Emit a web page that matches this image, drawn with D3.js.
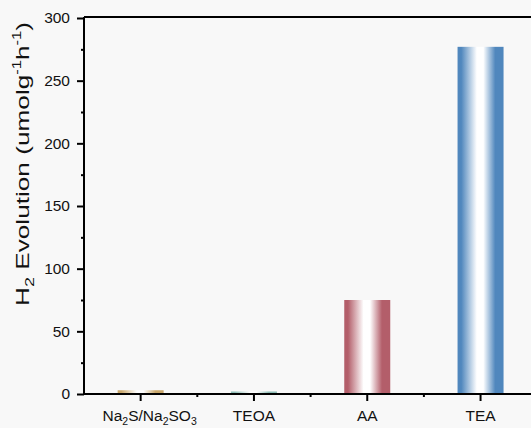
<!DOCTYPE html>
<html>
<head>
<meta charset="utf-8">
<script src="https://cdn.jsdelivr.net/npm/d3@7"></script>
<style>
  html, body { margin: 0; padding: 0; background: #f8f8f8; }
  svg { display: block; font-family: "Liberation Sans", Arial, sans-serif; }
</style>
</head>
<body>
<svg id="chart" width="531" height="428"></svg>
<script>
// Sacrificial agents and their hydrogen evolution rates
const categories = ["Na2S/Na2SO3", "TEOA", "AA", "TEA"];
// Label pieces: [text, "sub" | ""]
const categoryLabels = [
  [["Na", ""], ["2", "sub"], ["S/Na", ""], ["2", "sub"], ["SO", ""], ["3", "sub"]],
  [["TEOA", ""]],
  [["AA", ""]],
  [["TEA", ""]]
];
const values = [3, 2, 75, 277];
const barColors = ["#c9a76b", "#8dbcb5", "#b35e6a", "#5087bd"];
const yTicks = [0, 50, 100, 150, 200, 250, 300];
const yMinorTicks = [25, 75, 125, 175, 225, 275];

const svg = d3.select("#chart");
const plotLeft = 84, plotTop = 18, plotBottom = 394;
const step = 113.3;
const plotRight = plotLeft + step * categories.length;

const x = d3.scaleBand()
  .domain(categories)
  .range([plotLeft, plotRight])
  .paddingInner(0.594)
  .paddingOuter(0.297);

const y = d3.scaleLinear().domain([0, 300]).range([plotBottom, plotTop]);

// Horizontal gradients: saturated edges, white highlight just left of centre
const defs = svg.append("defs");
categories.forEach((c, i) => {
  const g = defs.append("linearGradient")
    .attr("id", "grad" + i)
    .attr("x1", "0").attr("x2", "1").attr("y1", "0").attr("y2", "0");
  const col = barColors[i];
  [[0, col], [0.08, col], [0.42, "#ffffff"], [0.56, "#ffffff"], [0.82, col], [1, col]]
    .forEach(([o, c2]) => g.append("stop").attr("offset", o).attr("stop-color", c2));
});

// Bars
svg.append("g").selectAll("rect")
  .data(categories)
  .join("rect")
  .attr("x", d => x(d))
  .attr("width", x.bandwidth())
  .attr("y", (d, i) => y(values[i]))
  .attr("height", (d, i) => y(0) - y(values[i]))
  .attr("fill", (d, i) => `url(#grad${i})`);

// Frame: left axis line and top border
const axisColor = "#000";
svg.append("line").attr("x1", plotLeft).attr("x2", plotLeft).attr("y1", plotTop - 1).attr("y2", plotBottom + 1)
  .attr("stroke", axisColor).attr("stroke-width", 2);
svg.append("line").attr("x1", plotLeft).attr("x2", 540).attr("y1", plotTop - 1).attr("y2", plotTop - 1)
  .attr("stroke", axisColor).attr("stroke-width", 2);

// Y axis
const yAxis = d3.axisLeft(y).tickValues(yTicks).tickSize(7).tickPadding(7);
const gy = svg.append("g").attr("transform", `translate(${plotLeft},0)`).call(yAxis);
gy.select(".domain").remove();
gy.selectAll(".tick line").attr("stroke-width", 2);
gy.selectAll(".tick text").attr("font-size", 15.5).attr("fill", "#111")
  .attr("font-family", "Liberation Sans, Arial, sans-serif");
const yMinor = d3.axisLeft(y).tickValues(yMinorTicks).tickSize(3).tickFormat("");
const gym = svg.append("g").attr("transform", `translate(${plotLeft},0)`).call(yMinor);
gym.select(".domain").remove();
gym.selectAll(".tick line").attr("stroke-width", 2);

// X axis
const center = d => x(d) + x.bandwidth() / 2;
svg.append("line").attr("x1", plotLeft - 1).attr("x2", 540).attr("y1", plotBottom).attr("y2", plotBottom)
  .attr("stroke", axisColor).attr("stroke-width", 2);
const gx = svg.append("g");
gx.selectAll("line.major").data(categories).join("line").attr("class", "major")
  .attr("x1", center).attr("x2", center)
  .attr("y1", plotBottom).attr("y2", plotBottom + 7)
  .attr("stroke", axisColor).attr("stroke-width", 2);
const minorX = d => x(d) - (x.step() - x.bandwidth()) / 2;
gx.selectAll("line.minor").data(categories.slice(1)).join("line").attr("class", "minor")
  .attr("x1", minorX).attr("x2", minorX)
  .attr("y1", plotBottom).attr("y2", plotBottom + 3)
  .attr("stroke", axisColor).attr("stroke-width", 2);

const labels = gx.selectAll("text").data(categories).join("text")
  .attr("x", center)
  .attr("dx", (d, i) => i === 0 ? 9 : 0)
  .attr("y", 421)
  .attr("text-anchor", "middle")
  .attr("font-size", 15.5)
  .attr("fill", "#111");
labels.each(function (d, i) {
  const t = d3.select(this);
  let prevSub = false;
  categoryLabels[i].forEach(([s, kind]) => {
    const span = t.append("tspan").text(s);
    if (kind === "sub") {
      span.attr("font-size", 10.5).attr("dy", 4);
      prevSub = true;
    } else {
      if (prevSub) span.attr("dy", -4);
      prevSub = false;
    }
  });
});

// Y axis title
const title = svg.append("text")
  .attr("transform", "translate(29,164) rotate(-90)")
  .attr("text-anchor", "middle")
  .attr("font-size", 19)
  .attr("textLength", 284)
  .attr("lengthAdjust", "spacingAndGlyphs")
  .attr("fill", "#111");
title.append("tspan").text("H");
title.append("tspan").text("2").attr("font-size", 13).attr("dy", 5);
title.append("tspan").text(" Evolution (umolg").attr("dy", -5);
title.append("tspan").text("-1").attr("font-size", 12).attr("dy", -8);
title.append("tspan").text("h").attr("dy", 8);
title.append("tspan").text("-1").attr("font-size", 12).attr("dy", -8);
title.append("tspan").text(")").attr("dy", 8);
</script>
</body>
</html>
